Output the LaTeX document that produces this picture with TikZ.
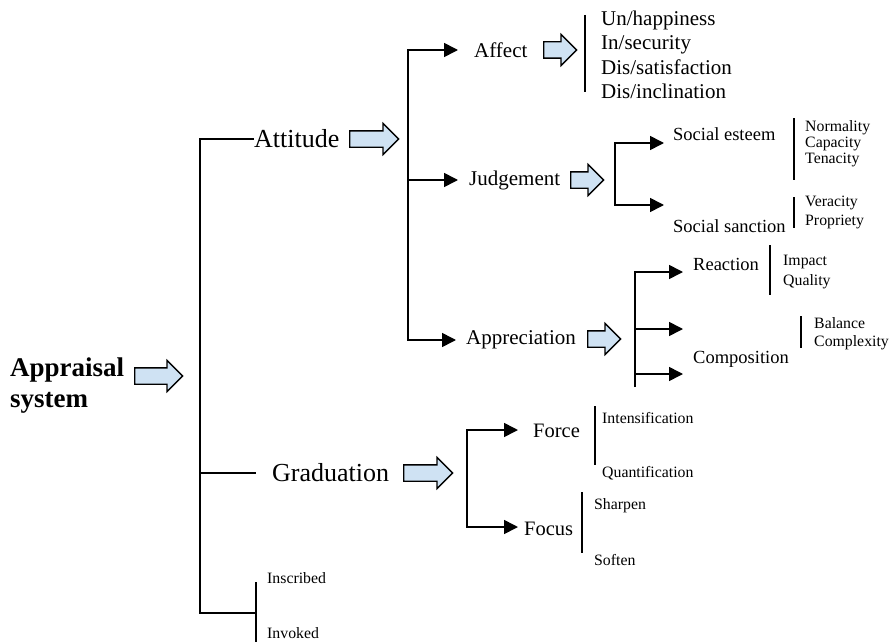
\documentclass[tikz,border=0pt]{standalone}
\usepackage{fontspec}
\setmainfont{Liberation Serif}
\usetikzlibrary{arrows.meta, positioning, shapes.arrows}
\definecolor{colorArrow}{RGB}{207, 226, 243}

\begin{document}
\begin{tikzpicture}[
  x=1pt, y=-1pt,
  root/.style={inner sep=0pt,anchor=west,align=left,
    font=\fontsize{27}{31}\selectfont\bfseries},
  big/.style={inner sep=0pt,anchor=west,font=\fontsize{26}{30}\selectfont},
  mid/.style={inner sep=0pt,anchor=west,align=left,
    font=\fontsize{21}{24.5}\selectfont},
  sub/.style={inner sep=0pt,anchor=west,font=\fontsize{18.5}{22}\selectfont},
  grd/.style={inner sep=0pt,anchor=west,font=\fontsize{20.5}{24}\selectfont},
  lst/.style={inner sep=0pt,anchor=west,align=left,
    font=\fontsize{15.8}{#1}\selectfont},
  lst/.default=18,
  barrow/.style={single arrow,draw,line width=1.3pt,fill=colorArrow,
    anchor=tail,minimum height=#1,inner xsep=0pt,inner ysep=7.5pt,
    single arrow head extend=7.5pt},
  barrow/.default=33pt,
  ln/.style={line width=1.6pt},
  arr/.style={-{Triangle[length=14pt,width=14pt]},line width=1.6pt},
]
\useasboundingbox (0,0) rectangle (891,642);

% Root
\node[root] (apr) at (10,386) {Appraisal\\system};
\node[barrow=48pt] (aprarr) at (134,376) {};

% First level
\node[big] (att) at (254,139) {Attitude};
\node[barrow=49pt] (attarr) at (349,139) {};
\node[big] (grad) at (272,473) {Graduation};
\node[barrow=49pt] (gradarr) at (403,473) {};
\node[lst] (insc) at (267,578) {Inscribed};
\node[lst] (invk) at (267,633) {Invoked};

\coordinate (m2) at (200,473);
\coordinate (m3) at (200,613);
\coordinate (m4) at (256,613);
\coordinate (eng1) at (256,582);
\coordinate (eng2) at (256,642);

\draw[ln] (att.west) -| (m3) -- (m4);
\draw[ln] (m2) -- ([xshift=-16pt]grad.west);
\draw[ln] (eng1) -- (eng2);

% Attitude branch
\node[mid] (aff) at (474,50) {Affect};
\node[barrow] (affarr) at (543,50) {};
\node[mid] (jud) at (469,180) {Judgement};
\node[barrow] (judarr) at (570,180) {};
\node[mid] (appr) at (466,340) {Appreciation};
\node[barrow] (apprarr) at (587,339) {};

\coordinate (a1) at (408,50);
\coordinate (a3) at (408,340);
\draw[arr] (a3) |- ([xshift=-16pt]aff.west);
\draw[arr] (a1) |- ([xshift=-10pt]appr.west);
\draw[arr] (a1 |- jud.west) -- ([xshift=-11pt]jud.west);

% Affect
\coordinate (affb1) at (585,15);
\coordinate (affb2) at (585,92);
\draw[ln] (affb1) -- (affb2);
\node[mid] (afflst) at (601,55) {Un/happiness\\In/security\\Dis/satisfaction\\Dis/inclination};

% Judgement
\node[sub] (est) at (673,134) {Social esteem};
\node[sub] (sanc) at (673,226) {Social sanction};
\coordinate (j1) at (615,143);
\coordinate (j2) at (615,205);
\coordinate (jt1) at (664,143);
\coordinate (jt2) at (664,205);
\draw[arr] (j2) |- (jt1);
\draw[arr] (j1) |- (jt2);

\coordinate (estb1) at (794,118);
\coordinate (estb2) at (794,180);
\coordinate (sancb1) at (794,197);
\coordinate (sancb2) at (794,228);
\draw[ln] (estb1) -- (estb2);
\draw[ln] (sancb1) -- (sancb2);
\node[lst=16] (estlst) at (805,144) {Normality\\Capacity\\Tenacity};
\node[lst=19] (sanclst) at (805,212.5) {Veracity\\Propriety};

% Appreciation
\node[sub] (reac) at (693,264) {Reaction};
\node[sub] (comp) at (693,359) {Composition};
\coordinate (p1) at (635,272);
\coordinate (p2) at (635,329);
\coordinate (p3) at (635,387);
\coordinate (p4) at (635,374);
\coordinate (pt1) at (683,272);
\coordinate (pt2) at (683,329);
\coordinate (pt3) at (683,374);
\draw[arr] (p3) |- (pt1);
\draw[arr] (p2) -- (pt2);
\draw[arr] (p4) -- (pt3);

\coordinate (reacb1) at (770,245);
\coordinate (reacb2) at (770,295);
\coordinate (compb1) at (801,316);
\coordinate (compb2) at (801,348);
\draw[ln] (reacb1) -- (reacb2);
\draw[ln] (compb1) -- (compb2);
\node[lst=20] (reaclst) at (783,272) {Impact\\Quality};
\node[lst=18] (complst) at (814,334) {Balance\\Complexity};

% Graduation branch
\node[grd] (force) at (533,431) {Force};
\node[grd] (focus) at (524,529) {Focus};
\coordinate (g1) at (467,430);
\coordinate (g2) at (467,527);
\coordinate (gt1) at (518,430);
\coordinate (gt2) at (518,527);
\draw[arr] (g2) |- (gt1);
\draw[arr] (g1) |- (gt2);

\coordinate (forceb1) at (595,406);
\coordinate (forceb2) at (595,465);
\coordinate (focusb1) at (582,492);
\coordinate (focusb2) at (582,553);
\draw[ln] (forceb1) -- (forceb2);
\draw[ln] (focusb1) -- (focusb2);
\node[lst] (intens) at (602,418) {Intensification};
\node[lst] (quant) at (602,473) {Quantification};
\node[lst] (sharp) at (594,506) {Sharpen};
\node[lst] (soft) at (594,560) {Soften};

\end{tikzpicture}
\end{document}
